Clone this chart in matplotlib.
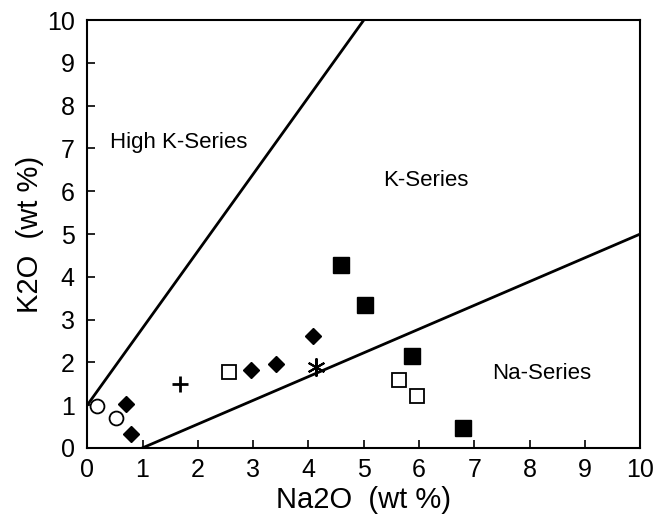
import numpy as np
import matplotlib.pyplot as plt

plt.rcParams['font.family'] = ['Liberation Sans', 'DejaVu Sans']

# data (Na2O, K2O in wt %)
circ_x = [0.17, 0.52]
circ_y = [0.98, 0.70]
diam_x = [0.70, 0.80, 2.97, 3.42, 4.09]
diam_y = [1.03, 0.33, 1.82, 1.97, 2.62]
plus_x = [1.68]
plus_y = [1.50]
osq_x = [2.57, 5.64, 5.97]
osq_y = [1.77, 1.58, 1.22]
star_x = [4.14]
star_y = [1.88]
fsq_x = [4.59, 5.03, 5.88, 6.80]
fsq_y = [4.27, 3.33, 2.14, 0.47]

# series boundary lines
hk_x = [0, 5]
hk_y = [1, 10]
na_x = [1, 10]
na_y = [0, 5]

fig = plt.figure(figsize=(6.56, 5.16), dpi=100)
ax = fig.add_axes([0.133, 0.132, 0.843, 0.829])

ax.plot(hk_x, hk_y, color='black', lw=2)
ax.plot(na_x, na_y, color='black', lw=2)

ax.plot(circ_x, circ_y, 'o', mfc='white', mec='black', ms=10, mew=1.3, ls='none')
ax.plot(diam_x, diam_y, 'D', color='black', ms=8, ls='none')
ax.plot(plus_x, plus_y, '+', color='black', ms=12, mew=2, ls='none')
ax.plot(osq_x, osq_y, 's', mfc='white', mec='black', ms=10, mew=1.3, ls='none')
ax.plot(star_x, star_y, marker=(6, 2, 0), color='black', ms=13, mew=1.5, ls='none')
ax.plot(fsq_x, fsq_y, 's', color='black', ms=11, ls='none')

ax.text(0.42, 7.15, 'High K-Series', fontsize=16, va='center', ha='left')
ax.text(5.35, 6.25, 'K-Series', fontsize=16, va='center', ha='left')
ax.text(7.32, 1.75, 'Na-Series', fontsize=16, va='center', ha='left')

ax.set_xlim(0, 10)
ax.set_ylim(0, 10)
ax.set_xticks(np.arange(0, 11, 1))
ax.set_yticks(np.arange(0, 11, 1))
ax.tick_params(direction='in', labelsize=18, length=6, width=1.2, top=False, right=False)
ax.tick_params(axis='y', pad=9)
ax.tick_params(axis='x', pad=7)
for s in ax.spines.values():
    s.set_linewidth(1.5)

ax.set_xlabel('Na2O  (wt %)', fontsize=21, labelpad=3)
ax.set_ylabel('K2O  (wt %)', fontsize=21, labelpad=2)

fig.savefig('out.png', dpi=100)
